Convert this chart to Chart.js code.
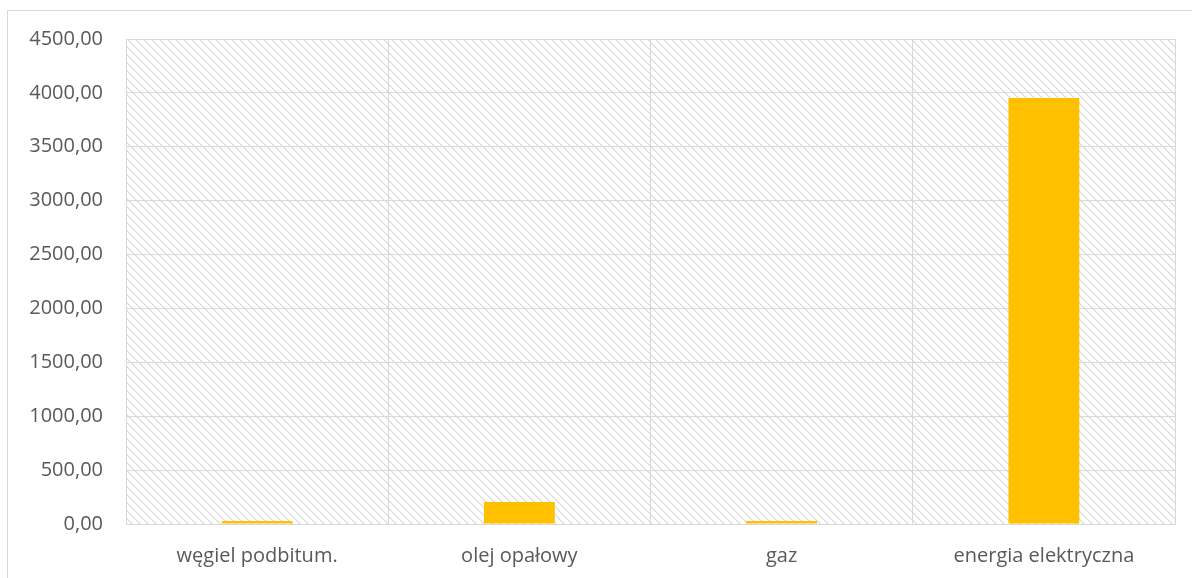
<!DOCTYPE html>
<html>
<head>
<meta charset="utf-8">
<script src="https://cdn.jsdelivr.net/npm/chart.js@4/dist/chart.umd.min.js"></script>
<style>
  html, body { margin: 0; padding: 0; background: #fff; }
  #wrap { width: 1192px; height: 578px; position: relative; }
</style>
</head>
<body>
<div id="wrap"><canvas id="chart" width="1192" height="578"></canvas></div>
<script>
const categories = ['węgiel podbitum.', 'olej opałowy', 'gaz', 'energia elektryczna'];
const values = [28, 204, 28, 3952];
const yTicks = [0, 500, 1000, 1500, 2000, 2500, 3000, 3500, 4000, 4500];

// diagonal hatch used behind the bars
function makeHatch() {
    const c = document.createElement('canvas');
    c.width = 8; c.height = 8;
    const g = c.getContext('2d');
    const img = g.createImageData(8, 8);
    for (let y = 0; y < 8; y++) {
        for (let x = 0; x < 8; x++) {
            const i = (y * 8 + x) * 4;
            const d = ((x - y) % 8 + 8) % 8;
            const v = d === 0 ? 217 : (d === 1 ? 234 : 255);
            img.data[i] = v; img.data[i + 1] = v; img.data[i + 2] = v; img.data[i + 3] = 255;
        }
    }
    g.putImageData(img, 0, 0);
    return g.createPattern(c, 'repeat');
}

const framePlugin = {
    id: 'frame',
    beforeDraw(chart) {
        const ctx = chart.ctx;
        const a = chart.chartArea;
        ctx.save();
        ctx.strokeStyle = '#d9d9d9';
        ctx.lineWidth = 1;
        ctx.strokeRect(7.5, 10.5, 1300, 700);
        ctx.fillStyle = makeHatch();
        ctx.fillRect(a.left, a.top, a.right - a.left, a.bottom - a.top);
        ctx.restore();
    }
};

const fmt = v => v.toFixed(2).replace('.', ',');
const labelFont = { family: 'Open Sans', size: 20 };

new Chart(document.getElementById('chart'), {
    type: 'bar',
    data: {
        labels: categories,
        datasets: [{
            data: values,
            backgroundColor: '#FFC000',
            borderWidth: 0,
            barPercentage: 0.27,
            categoryPercentage: 1
        }]
    },
    options: {
        responsive: false,
        animation: false,
        layout: { padding: { top: 39, right: 17, left: 0, bottom: 0 } },
        plugins: { legend: { display: false }, tooltip: { enabled: false } },
        scales: {
            x: {
                grid: { color: '#d9d9d9', lineWidth: 1, drawTicks: false, offset: true },
                border: { color: '#d9d9d9' },
                ticks: { color: '#595959', font: labelFont, padding: 20 },
                afterFit(s) { s.height = 54; }
            },
            y: {
                min: 0, max: 4500,
                afterBuildTicks(s) { s.ticks = yTicks.map(v => ({ value: v })); },
                grid: { color: '#d9d9d9', lineWidth: 1, drawTicks: false },
                border: { color: '#d9d9d9' },
                ticks: { color: '#595959', font: labelFont, padding: 23, callback: v => fmt(v) },
                afterFit(s) { s.width = 126; }
            }
        }
    },
    plugins: [framePlugin]
});
</script>
</body>
</html>
